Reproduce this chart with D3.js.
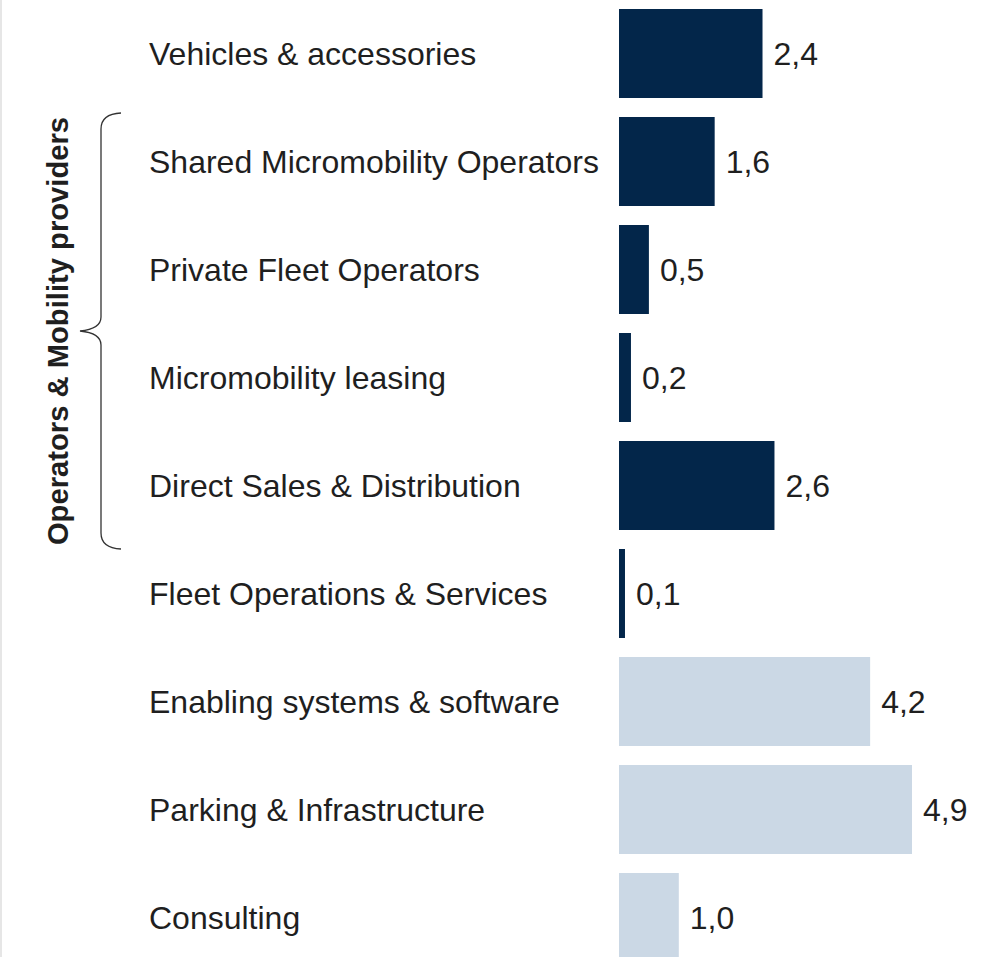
<!DOCTYPE html>
<html>
<head>
<meta charset="utf-8">
<script src="https://cdn.jsdelivr.net/npm/d3@7"></script>
<style>
  html, body { margin: 0; padding: 0; background: #fff; }
  svg { display: block; }
</style>
</head>
<body>
<script>
// Segments and their values
const categories = [
  "Vehicles & accessories",
  "Shared Micromobility Operators",
  "Private Fleet Operators",
  "Micromobility leasing",
  "Direct Sales & Distribution",
  "Fleet Operations & Services",
  "Enabling systems & software",
  "Parking & Infrastructure",
  "Consulting"
];
const values = [2.4, 1.6, 0.5, 0.2, 2.6, 0.1, 4.2, 4.9, 1.0];
const valueLabels = ["2,4", "1,6", "0,5", "0,2", "2,6", "0,1", "4,2", "4,9", "1,0"];
const groups = ["core", "core", "core", "core", "core", "core", "support", "support", "support"];
const bracketLabel = "Operators & Mobility providers";
const bracketRange = ["Shared Micromobility Operators", "Direct Sales & Distribution"];

const W = 995, H = 957;
const colors = { core: "#03264a", support: "#cbd8e5" };
const FONT = "Liberation Sans, Arial, sans-serif";

const svg = d3.select("body").append("svg")
  .attr("width", W).attr("height", H);

// thin page border on the left edge
svg.append("rect").attr("x", 0).attr("y", 0).attr("width", 2).attr("height", H)
  .attr("fill", "#e6e6e6");

const y = d3.scaleBand()
  .domain(categories)
  .range([-0.5, 971.5])
  .paddingInner(0.176)
  .paddingOuter(0.088);

const x = d3.scaleLinear().domain([0, 4.9]).range([619, 912]);

const rows = svg.append("g").selectAll("g")
  .data(categories.map((c, i) => ({ c, v: values[i], lab: valueLabels[i], g: groups[i] })))
  .join("g");

rows.append("rect")
  .attr("x", x(0))
  .attr("y", d => y(d.c))
  .attr("width", d => x(d.v) - x(0))
  .attr("height", y.bandwidth())
  .attr("fill", d => colors[d.g]);

rows.append("text")
  .attr("x", 149)
  .attr("y", d => y(d.c) + y.bandwidth() / 2)
  .attr("dy", "0.35em")
  .attr("font-family", FONT)
  .attr("font-size", 32)
  .attr("fill", "#1f1f1f")
  .text(d => d.c);

rows.append("text")
  .attr("x", d => x(d.v) + 11)
  .attr("y", d => y(d.c) + y.bandwidth() / 2)
  .attr("dy", "0.35em")
  .attr("font-family", FONT)
  .attr("font-size", 32)
  .attr("fill", "#1f1f1f")
  .text(d => d.lab);

// curly bracket grouping the operator rows
const yTop = y(bracketRange[0]) - 4;
const yBot = y(bracketRange[1]) + y.bandwidth() + 19;
const yMid = (yTop + yBot) / 2;
const xEnd = 121, xLine = 101, xTip = 80, r = 16;
const path = d3.path();
path.moveTo(xEnd, yTop);
path.quadraticCurveTo(xLine, yTop + 1, xLine, yTop + r);
path.lineTo(xLine, yMid - r + 2);
path.quadraticCurveTo(xLine, yMid - 2, xTip, yMid);
path.quadraticCurveTo(xLine, yMid + 2, xLine, yMid + r - 2);
path.lineTo(xLine, yBot - r);
path.quadraticCurveTo(xLine, yBot - 1, xEnd, yBot);
svg.append("path").attr("d", path.toString())
  .attr("fill", "none").attr("stroke", "#333").attr("stroke-width", 1.3);

svg.append("text")
  .attr("transform", `translate(68, ${yMid}) rotate(-90)`)
  .attr("text-anchor", "middle")
  .attr("font-family", FONT)
  .attr("font-weight", "bold")
  .attr("font-size", 29.2)
  .attr("fill", "#1f1f1f")
  .text(bracketLabel);
</script>
</body>
</html>
